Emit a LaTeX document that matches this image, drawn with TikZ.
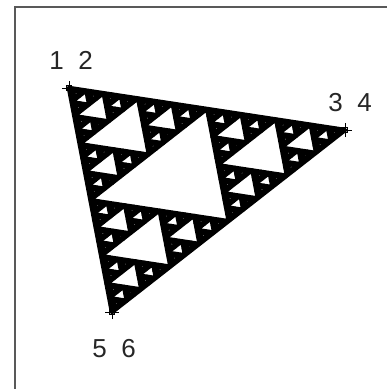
\documentclass[tikz,border=0pt]{standalone}
\usepackage{fontspec}
\setmainfont{Liberation Sans}
\newcommand\sierholes[7]{%
  \ifnum#1>0\relax
  \begingroup
    \pgfmathsetmacro\Sax{(#2+#4)/2}\pgfmathsetmacro\Say{(#3+#5)/2}%
    \pgfmathsetmacro\Sbx{(#4+#6)/2}\pgfmathsetmacro\Sby{(#5+#7)/2}%
    \pgfmathsetmacro\Scx{(#6+#2)/2}\pgfmathsetmacro\Scy{(#7+#3)/2}%
    \filldraw[hole] (\Sax,\Say) -- (\Sbx,\Sby) -- (\Scx,\Scy) -- cycle;
    \pgfmathtruncatemacro\Snl{#1-1}%
    \edef\Snext{%
      \noexpand\sierholes{\Snl}{#2}{#3}{\Sax}{\Say}{\Scx}{\Scy}%
      \noexpand\sierholes{\Snl}{\Sax}{\Say}{#4}{#5}{\Sbx}{\Sby}%
      \noexpand\sierholes{\Snl}{\Scx}{\Scy}{\Sbx}{\Sby}{#6}{#7}}%
    \Snext
  \endgroup
  \fi}
\newcommand\digitpair[2]{\makebox[14.5pt]{#1}\makebox[14.5pt]{}\makebox[14.5pt]{#2}}
\tikzset{
  frame/.style={draw=black!65, line width=1.3pt},
  hole/.style={fill=white, draw=black, line width=4pt, line join=round},
  outer/.style={fill=black, draw=black, line width=4.5pt, line join=round},
  marker/.style={draw=black, line width=0.9pt, rectangle, minimum size=5pt, inner sep=0pt},
  crossline/.style={draw=black, line width=0.9pt},
  lab/.style={font=\fontsize{26pt}{28pt}\selectfont, inner sep=0pt, text=black!85}
}
\begin{document}
\begin{tikzpicture}[x=1pt,y=-1pt]
  \useasboundingbox (0,0) rectangle (387,389);
  \draw[frame] (15,389) -- (15,7) -- (387,7);
  % Sierpinski triangle
  \filldraw[outer] (69,88) -- (345,130) -- (112,312) -- cycle;
  \sierholes{5}{69}{88}{345}{130}{112}{312}
  % vertex markers
  \node[marker] (v1) at (69,88) {};
  \node[marker] (v2) at (345,130) {};
  \node[marker] (v3) at (112,312) {};
  \foreach \v in {v1,v2,v3}{
    \draw[crossline] ([xshift=-7pt]\v.center) -- ([xshift=7pt]\v.center);
    \draw[crossline] ([yshift=-7pt]\v.center) -- ([yshift=7pt]\v.center);
  }
  % labels
  \node[lab] (l12) at (71,60) {\digitpair{1}{2}};
  \node[lab] (l34) at (350,103) {\digitpair{3}{4}};
  \node[lab] (l56) at (114,349) {\digitpair{5}{6}};
\end{tikzpicture}
\end{document}
